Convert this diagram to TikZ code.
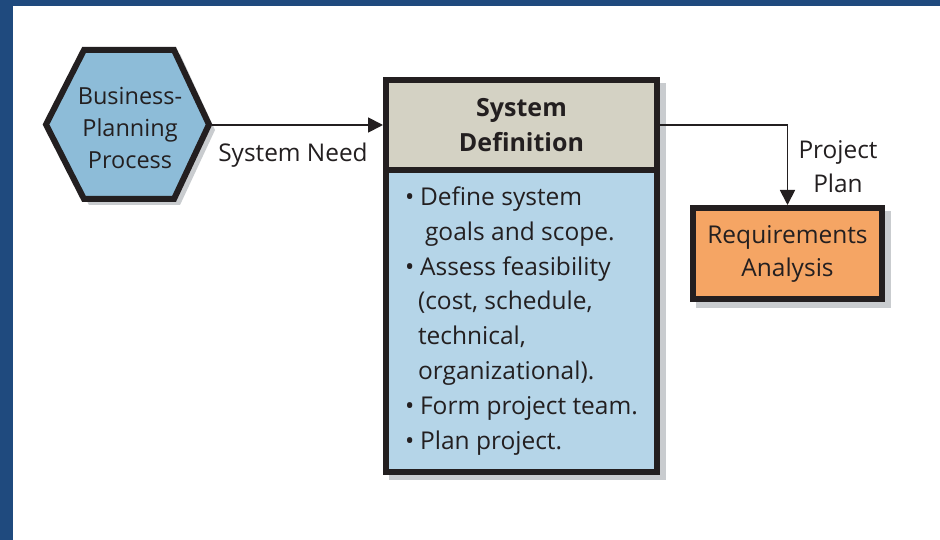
\documentclass[tikz,border=0pt]{standalone}
\usepackage{fontspec}
\setmainfont{Open Sans}
\usetikzlibrary{arrows.meta, positioning}
\definecolor{frameblue}{HTML}{1F4A7E}
\definecolor{hexblue}{HTML}{8DBCD8}
\definecolor{bodyblue}{HTML}{B5D5E8}
\definecolor{headgray}{HTML}{D4D2C4}
\definecolor{reqorange}{HTML}{F5A564}
\definecolor{shadowgray}{HTML}{C9CCCF}
\definecolor{ink}{HTML}{231F20}
\tikzset{
  box/.style={draw=ink, line width=6pt, inner sep=0pt, text=ink},
  flow/.style={draw=ink, line width=1.8pt, -{Triangle[length=15pt,width=15pt]}},
  lbl/.style={text=ink, align=center, font=\fontsize{24}{33}\selectfont},
}
\newcommand{\bitem}{\makebox[15pt][l]{\textbullet}}

\begin{document}
\begin{tikzpicture}[x=1pt, y=-1pt]
\useasboundingbox (0,0) rectangle (940,540);
\fill[white] (0,0) rectangle (940,540);
\fill[frameblue] (0,0) rectangle (940,6);
\fill[frameblue] (0,0) rectangle (13,540);

% shadows
\fill[shadowgray] (50,130) -- (89,54) -- (180,54) -- (215,130) -- (180,205) -- (89,205) -- cycle;
\fill[shadowgray] (389,83) rectangle (666,480);
\fill[shadowgray] (696,211) rectangle (891,308);

% business planning
\draw[ink, line width=6pt, fill=hexblue] (46,124.5) -- (84,50) -- (174,50) -- (209,124.5) -- (174,199) -- (84,199) -- cycle;
\node[lbl, font=\fontsize{23.5}{32}\selectfont] (bpp) at (130,128) {Business-\\Planning\\Process};
\coordinate (bppE) at (212,125);

% system definition
\node[box, fill=headgray, minimum width=271pt, minimum height=90pt, anchor=north west,
      font=\fontsize{25}{35}\selectfont\bfseries, align=center] (sdhead) at (383,77) {System\\Definition};
\node[box, fill=bodyblue, minimum width=271pt, minimum height=302pt, below=-6pt of sdhead,
      font=\fontsize{24.5}{34.9}\selectfont, align=left] (sdbody) {%
  \bitem Define system\\
  \hspace*{20pt}goals and scope.\\
  \bitem Assess feasibility\\
  \hspace*{13pt}(cost, schedule,\\
  \hspace*{13pt}technical,\\
  \hspace*{13pt}organizational).\\
  \bitem Form project team.\\
  \bitem Plan project.};

% requirements
\node[box, fill=reqorange, minimum width=189pt, minimum height=91pt, anchor=north west,
      font=\fontsize{24.5}{33}\selectfont, align=center] (req) at (690,205) {Requirements\\Analysis};

\draw[flow] (bppE) -- (sdhead.west);
\node[lbl, font=\fontsize{24.4}{33}\selectfont] (need) at (293,155) {System Need};
\draw[flow] (sdhead.east) -| (req.north);
\node[lbl, font=\fontsize{24.4}{34}\selectfont] (plan) at (838,167) {Project\\Plan};
\end{tikzpicture}
\end{document}
